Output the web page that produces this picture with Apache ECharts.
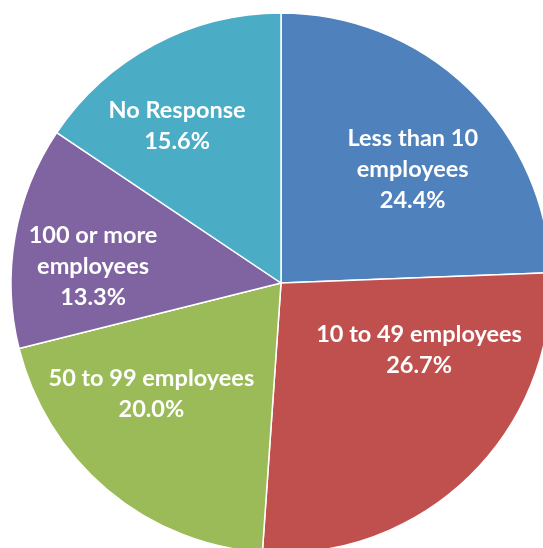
<!DOCTYPE html>
<html>
<head>
<meta charset="utf-8">
<script src="https://cdn.jsdelivr.net/npm/echarts@6/dist/echarts.min.js"></script>
<style>
  html, body { margin: 0; padding: 0; background: #ffffff; }
  #chart { width: 543px; height: 548px; }
</style>
</head>
<body>
<div id="chart"></div>
<script>
// Survey respondents by company size (percent of responses)
const categories = [
  'Less than 10\nemployees',
  '10 to 49 employees',
  '50 to 99 employees',
  '100 or more\nemployees',
  'No Response'
];
const shares = [24.4, 26.7, 20.0, 13.3, 15.6];
const sliceColors = ['#4F81BD', '#C0504D', '#9BBB59', '#8064A2', '#4BACC6'];

// Nudges applied to each label after the library places it inside its slice
const labelNudges = [[36, -14], [42, -32], [-41, 5], [-52, 7], [-39, -35]];

const chart = echarts.init(document.getElementById('chart'), null, { renderer: 'canvas' });

chart.setOption({
  animation: false,
  backgroundColor: '#ffffff',
  series: [{
    type: 'pie',
    center: [281, 283],
    radius: 270,
    startAngle: 90,
    clockwise: true,
    data: categories.map((name, i) => ({
      name: name,
      value: shares[i],
      itemStyle: { color: sliceColors[i] }
    })),
    itemStyle: { borderColor: '#ffffff', borderWidth: 1.5 },
    label: {
      show: true,
      position: 'inside',
      color: '#ffffff',
      fontFamily: 'Lato',
      fontWeight: 'bold',
      fontSize: 23.5,
      lineHeight: 31,
      align: 'center',
      formatter: p => p.name + '\n' + p.value.toFixed(1) + '%'
    },
    labelLine: { show: false },
    emphasis: { disabled: true },
    labelLayout: p => ({ dx: labelNudges[p.dataIndex][0], dy: labelNudges[p.dataIndex][1] })
  }]
});
</script>
</body>
</html>
